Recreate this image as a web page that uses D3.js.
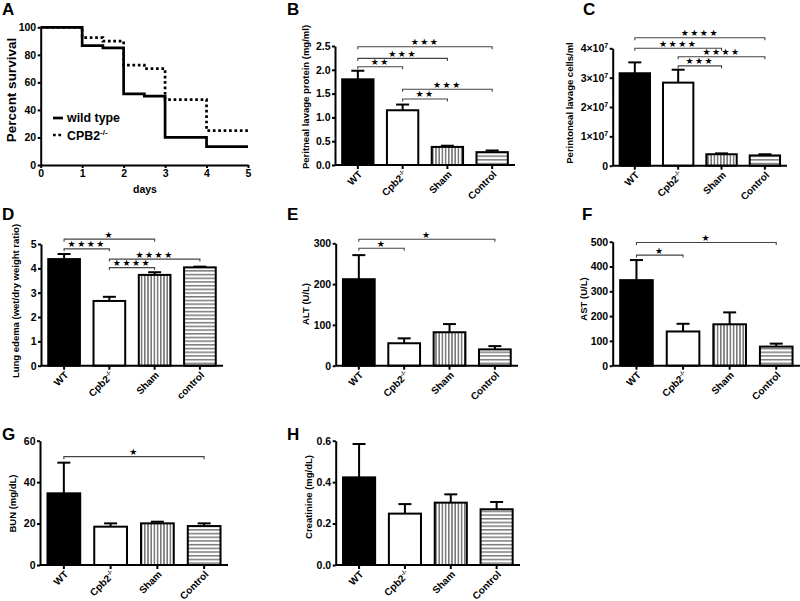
<!DOCTYPE html>
<html><head><meta charset="utf-8">
<script src="https://cdn.jsdelivr.net/npm/d3@7"></script>
<style>
body{margin:0;background:#fff}
text{font-family:"Liberation Sans",Arial,Helvetica,sans-serif;font-weight:bold;fill:#000}
</style>
</head><body>
<svg id="chart" width="800" height="601"></svg>
<script>
// ---------------- DATA ----------------
const groups = ["WT", "Cpb2", "Sham", "Control"];
const groupsLower = ["WT", "Cpb2", "Sham", "control"];

const survivalDays = [0, 1, 1.5, 2, 2.5, 3, 4, 5];
const wildTypeSurvival = [100, 86.7, 85, 51.7, 50, 20, 13.3, 13.3];
const cpb2Survival = [100, 92.5, 90, 72.5, 70, 47.5, 25, 25];
const survivalXTicks = [0, 1, 2, 3, 4, 5];
const survivalYTicks = [0, 20, 40, 60, 80, 100];

const proteinMean = [1.80, 1.15, 0.38, 0.27];
const proteinSem = [0.18, 0.12, 0.025, 0.035];
const proteinTicks = [0, 0.5, 1.0, 1.5, 2.0, 2.5];
const proteinSigPairs = [[0, 3], [0, 2], [0, 1], [1, 3], [1, 2]];
const proteinSigStars = [3, 3, 2, 3, 2];
const proteinSigLevels = [2.485, 2.24, 2.065, 1.59, 1.387];

const cellsMean = [3.15e7, 2.83e7, 0.39e7, 0.35e7];
const cellsSem = [0.37e7, 0.44e7, 0.03e7, 0.04e7];
const cellsTicks = [0, 1e7, 2e7, 3e7, 4e7];
const cellsSigPairs = [[0, 3], [0, 2], [1, 3], [1, 2]];
const cellsSigStars = [4, 4, 4, 3];
const cellsSigLevels = [4.36e7, 4.0e7, 3.71e7, 3.40e7];

const edemaMean = [4.38, 2.66, 3.73, 4.04];
const edemaSem = [0.21, 0.17, 0.11, 0.03];
const edemaTicks = [0, 1, 2, 3, 4, 5];
const edemaSigPairs = [[0, 2], [0, 1], [1, 3], [1, 2]];
const edemaSigStars = [1, 4, 4, 4];
const edemaSigLevels = [5.2, 4.8, 4.38, 4.03];

const altMean = [212, 55, 82, 40];
const altSem = [59, 12, 20, 8];
const altTicks = [0, 100, 200, 300];
const altSigPairs = [[0, 3], [0, 1]];
const altSigStars = [1, 1];
const altSigLevels = [310, 288];

const astMean = [345, 138, 167, 77];
const astSem = [81, 31, 48, 12];
const astTicks = [0, 100, 200, 300, 400, 500];
const astSigPairs = [[0, 3], [0, 1]];
const astSigStars = [1, 1];
const astSigLevels = [497, 446];

const bunMean = [34.6, 18.5, 20.1, 18.8];
const bunSem = [14.8, 1.6, 0.8, 1.3];
const bunTicks = [0, 20, 40, 60];
const bunSigPairs = [[0, 3]];
const bunSigStars = [1];
const bunSigLevels = [52.3];

const creatMean = [0.423, 0.248, 0.301, 0.269];
const creatSem = [0.161, 0.046, 0.040, 0.035];
const creatTicks = [0, 0.2, 0.4, 0.6];

// ---------------- DRAWING ----------------
const svg = d3.select("#chart");
const defs = svg.append("defs");

const pv = defs.append("pattern").attr("id", "vstripe").attr("patternUnits", "userSpaceOnUse")
  .attr("width", 3.2).attr("height", 10);
pv.append("rect").attr("width", 3.2).attr("height", 10).attr("fill", "#fff");
pv.append("rect").attr("width", 1.6).attr("height", 10).attr("fill", "#7a7a7a");
const ph = defs.append("pattern").attr("id", "hstripe").attr("patternUnits", "userSpaceOnUse")
  .attr("width", 10).attr("height", 3.7);
ph.append("rect").attr("width", 10).attr("height", 3.7).attr("fill", "#fff");
ph.append("rect").attr("width", 10).attr("height", 1.5).attr("fill", "#7a7a7a");
const fills = ["#000", "#fff", "url(#vstripe)", "url(#hstripe)"];

function panelLetter(t, x, y) {
  svg.append("text").attr("x", x).attr("y", y).attr("font-size", 17).text(t);
}
function yTitle(t, cx, cy, size) {
  svg.append("text").attr("transform", `translate(${cx},${cy}) rotate(-90)`)
    .attr("text-anchor", "middle").attr("dy", "0.35em").attr("font-size", size || 9.5).text(t);
}
function styleAxis(g) {
  g.select(".domain").attr("stroke", "#000").attr("stroke-width", 2);
  g.selectAll(".tick line").attr("stroke", "#000").attr("stroke-width", 2);
  g.selectAll(".tick text").attr("font-size", 10.5).attr("fill", "#000")
    .style("font-family", '"Liberation Sans",Arial,sans-serif').style("font-weight", "bold");
}

// ---- Panel A: survival ----
(function () {
  const x = d3.scaleLinear().domain([0, 5]).range([40.7, 248]);
  const y = d3.scaleLinear().domain([0, 100]).range([165, 27.3]);
  const line = d3.line().x((d, i) => x(survivalDays[i])).y(d => y(d)).curve(d3.curveStepAfter);
  svg.append("path").datum(cpb2Survival).attr("d", line).attr("fill", "none")
    .attr("stroke", "#000").attr("stroke-width", 2.7).attr("stroke-dasharray", "2.7,2.7");
  svg.append("path").datum(wildTypeSurvival).attr("d", line).attr("fill", "none")
    .attr("stroke", "#000").attr("stroke-width", 2.7);
  const gx = svg.append("g").attr("transform", "translate(0,165)")
    .call(d3.axisBottom(x).tickValues(survivalXTicks).tickSize(3).tickSizeOuter(0).tickPadding(1.5).tickFormat(d => d));
  styleAxis(gx);
  const gy = svg.append("g").attr("transform", "translate(40.7,0)")
    .call(d3.axisLeft(y).tickValues(survivalYTicks).tickSize(3).tickSizeOuter(0).tickPadding(1.5).tickFormat(d => d));
  styleAxis(gy);
  svg.append("text").attr("x", 145).attr("y", 193).attr("text-anchor", "middle").attr("font-size", 10.5).text("days");
  yTitle("Percent survival", 11.5, 90, 13.5);
  svg.append("line").attr("x1", 53).attr("x2", 63).attr("y1", 118).attr("y2", 118)
    .attr("stroke", "#000").attr("stroke-width", 2.7);
  svg.append("line").attr("x1", 53).attr("x2", 63).attr("y1", 135).attr("y2", 135)
    .attr("stroke", "#000").attr("stroke-width", 2.7).attr("stroke-dasharray", "2.7,2.7");
  svg.append("text").attr("x", 67).attr("y", 122).attr("font-size", 12.4).text("wild type");
  const t = svg.append("text").attr("x", 67).attr("y", 139.5).attr("font-size", 12.4).text("CPB2");
  t.append("tspan").attr("dy", -5).attr("font-size", 8).text("-/-");
  panelLetter("A", 2, 15);
})();

// ---- bar panel ----
function barPanel(o) {
  const x = d3.scaleBand().domain(d3.range(4)).range([o.x0, o.x1]).paddingInner(0.3).paddingOuter(0.16);
  const y = d3.scaleLinear().domain([0, o.ymax]).range([o.yb, o.yt]);
  const cx = i => x(i) + x.bandwidth() / 2;
  const g = svg.append("g");
  g.selectAll("rect.bar").data(o.mean).join("rect").attr("class", "bar")
    .attr("x", (d, i) => x(i)).attr("width", x.bandwidth())
    .attr("y", d => y(d)).attr("height", d => o.yb - y(d))
    .attr("fill", (d, i) => fills[i]).attr("stroke", "#000").attr("stroke-width", 2);
  o.mean.forEach((m, i) => {
    const top = y(m + o.sem[i]);
    g.append("line").attr("x1", cx(i)).attr("x2", cx(i)).attr("y1", y(m)).attr("y2", top)
      .attr("stroke", "#000").attr("stroke-width", 2);
    g.append("line").attr("x1", cx(i) - 6.5).attr("x2", cx(i) + 6.5).attr("y1", top).attr("y2", top)
      .attr("stroke", "#000").attr("stroke-width", 2);
  });
  const gy = svg.append("g").attr("transform", `translate(${o.x0},0)`)
    .call(d3.axisLeft(y).tickValues(o.ticks).tickSize(3).tickSizeOuter(0).tickPadding(1.5).tickFormat(o.fmt || (d => d)));
  styleAxis(gy);
  if (o.sciTicks) {
    gy.selectAll(".tick text").each(function (d) {
      const s = d3.select(this); s.text(null);
      if (d === 0) { s.text("0"); return; }
      s.append("tspan").text((d / 1e7) + "\u00d710");
      s.append("tspan").attr("dy", -4).attr("font-size", 7).text("7");
    });
  }
  const gx = svg.append("g").attr("transform", `translate(0,${o.yb})`)
    .call(d3.axisBottom(x).tickSize(4).tickSizeOuter(0).tickFormat(""));
  styleAxis(gx);
  gx.select(".domain").attr("d", `M${o.x0},0H${o.x1}`);
  o.cats.forEach((c, i) => {
    const t = svg.append("text").attr("transform", `translate(${cx(i) + 5},${o.yb + 10}) rotate(-45)`)
      .attr("text-anchor", "end").attr("font-size", 10);
    if (c === "Cpb2") {
      t.append("tspan").text("Cpb2");
      t.append("tspan").attr("dy", -4).attr("font-size", 6).text("-/-");
    } else t.text(c);
  });
  (o.sigPairs || []).forEach((p, k) => {
    const ly = y(o.sigLevels[k]);
    const a = cx(p[0]), b = cx(p[1]);
    g.append("path").attr("d", `M${a},${ly + 2.5}V${ly}H${b}V${ly + 2.5}`)
      .attr("fill", "none").attr("stroke", "#444").attr("stroke-width", 1.1);
    g.append("text").attr("x", (a + b) / 2).attr("y", ly - 1.5).attr("text-anchor", "middle")
      .style("font-family", '"DejaVu Sans",sans-serif').attr("font-size", 9)
      .attr("letter-spacing", 1.5).text("\u2605".repeat(o.sigStars[k]));
  });
  yTitle(o.ylabel, o.lx, o.ly, 9.5);
  panelLetter(o.letter, o.px, o.py);
}

barPanel({mean: proteinMean, sem: proteinSem, cats: groups, ticks: proteinTicks, fmt: d3.format(".1f"),
  x0: 335, x1: 515, yb: 165, yt: 46, ymax: 2.5,
  sigPairs: proteinSigPairs, sigStars: proteinSigStars, sigLevels: proteinSigLevels,
  ylabel: "Peritneal lavage protein (mg/ml)", lx: 306, ly: 97, letter: "B", px: 287, py: 15});

barPanel({mean: cellsMean, sem: cellsSem, cats: groups, ticks: cellsTicks, sciTicks: true,
  x0: 612.7, x1: 787, yb: 165.7, yt: 48.3, ymax: 4e7,
  sigPairs: cellsSigPairs, sigStars: cellsSigStars, sigLevels: cellsSigLevels,
  ylabel: "Perintoneal lavage cells/ml", lx: 570, ly: 103, letter: "C", px: 583, py: 15});

barPanel({mean: edemaMean, sem: edemaSem, cats: groupsLower, ticks: edemaTicks,
  x0: 41, x1: 223, yb: 365.7, yt: 244, ymax: 5,
  sigPairs: edemaSigPairs, sigStars: edemaSigStars, sigLevels: edemaSigLevels,
  ylabel: "Lung edema (wet/dry weight ratio)", lx: 16, ly: 301, letter: "D", px: 2, py: 220});

barPanel({mean: altMean, sem: altSem, cats: groups, ticks: altTicks,
  x0: 335.7, x1: 518, yb: 365.7, yt: 243.3, ymax: 300,
  sigPairs: altSigPairs, sigStars: altSigStars, sigLevels: altSigLevels,
  ylabel: "ALT (U/L)", lx: 305.5, ly: 304, letter: "E", px: 287, py: 220});

barPanel({mean: astMean, sem: astSem, cats: groups, ticks: astTicks,
  x0: 612.7, x1: 800, yb: 365.7, yt: 241.7, ymax: 500,
  sigPairs: astSigPairs, sigStars: astSigStars, sigLevels: astSigLevels,
  ylabel: "AST (U/L)", lx: 583.5, ly: 299, letter: "F", px: 582, py: 220});

barPanel({mean: bunMean, sem: bunSem, cats: groups, ticks: bunTicks,
  x0: 40, x1: 228, yb: 565, yt: 440.7, ymax: 60,
  sigPairs: bunSigPairs, sigStars: bunSigStars, sigLevels: bunSigLevels,
  ylabel: "BUN (mg/dL)", lx: 13, ly: 503.5, letter: "G", px: 2, py: 440});

barPanel({mean: creatMean, sem: creatSem, cats: groups, ticks: creatTicks, fmt: d3.format(".1f"),
  x0: 335.7, x1: 520, yb: 565, yt: 440.7, ymax: 0.6,
  ylabel: "Creatinine (mg/dL)", lx: 309, ly: 497, letter: "H", px: 287, py: 440});
</script>
</body></html>
